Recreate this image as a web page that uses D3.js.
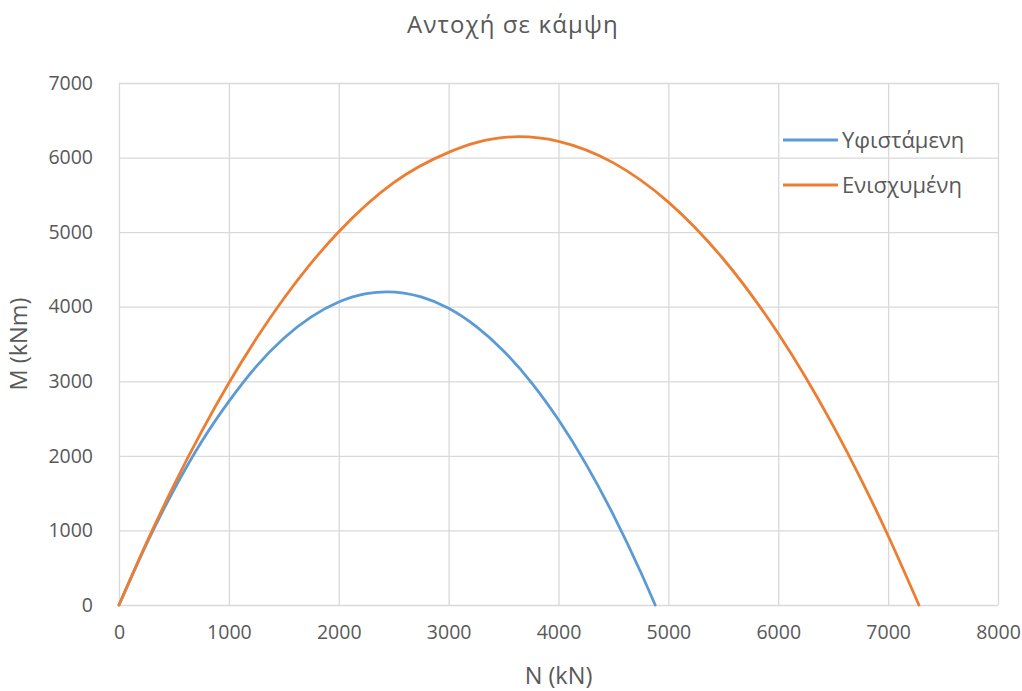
<!DOCTYPE html>
<html>
<head>
<meta charset="utf-8">
<script src="https://cdn.jsdelivr.net/npm/d3@7"></script>
<style>
  html, body { margin: 0; padding: 0; background: #ffffff; }
  svg { display: block; font-family: "Open Sans", "Noto Sans", sans-serif; }
</style>
</head>
<body>
<svg id="chart" width="1022" height="691"></svg>
<script>
// Interaction curves M–N: axial force N (kN), bending moment M (kNm)
const existingN = [0, 250, 500, 750, 1000, 1250, 1500, 1750, 2000, 2250, 2440, 2750, 3000, 3250, 3500, 3750, 4000, 4250, 4500, 4750, 4880];
const existingM = [0, 817, 1545, 2185, 2730, 3200, 3577, 3864, 4063, 4175, 4200, 4132, 3980, 3737, 3407, 2990, 2483, 1889, 1206, 436, 0];

const strengthenedN = [0, 250, 500, 750, 1000, 1250, 1500, 1750, 2000, 2500, 3000, 3250, 3640, 4000, 4500, 5000, 5500, 6000, 6250, 6500, 6750, 7000, 7280];
const strengthenedM = [0, 833, 1607, 2321, 2977, 3573, 4110, 4587, 5005, 5664, 6070, 6200, 6280, 6218, 5929, 5403, 4640, 3640, 3051, 2403, 1696, 929, 0];

const seriesNames = ["Υφιστάμενη", "Ενισχυμένη"];
const seriesColors = ["#5B9BD5", "#ED7D31"];

const xTicks = [0, 1000, 2000, 3000, 4000, 5000, 6000, 7000, 8000];
const yTicks = [0, 1000, 2000, 3000, 4000, 5000, 6000, 7000];

const titleText = "Αντοχή σε κάμψη";
const xTitle = "N (kN)";
const yTitle = "M (kNm)";

const svg = d3.select("#chart");
const plot = { left: 119, right: 998, top: 83, bottom: 605 };
const textColor = "#595959";
const gridColor = "#d9d9d9";

const x = d3.scaleLinear().domain([0, 8000]).range([plot.left, plot.right]);
const y = d3.scaleLinear().domain([0, 7000]).range([plot.bottom, plot.top]);

// axes with full-length ticks acting as gridlines
const yAxis = d3.axisLeft(y).tickValues(yTicks).tickSize(-(plot.right - plot.left)).tickPadding(26).tickFormat(d3.format("d"));
const xAxis = d3.axisBottom(x).tickValues(xTicks).tickSize(-(plot.bottom - plot.top)).tickPadding(20).tickFormat(d3.format("d"));

const gy = svg.append("g").attr("transform", `translate(${plot.left},0)`).call(yAxis);
const gx = svg.append("g").attr("transform", `translate(0,${plot.bottom})`).call(xAxis);

[gx, gy].forEach(g => {
  g.select(".domain").remove();
  g.selectAll(".tick line").attr("stroke", gridColor).attr("stroke-width", 1.3);
  g.selectAll(".tick text").attr("fill", textColor).attr("font-size", 19.5)
    .attr("font-family", "'Open Sans', sans-serif");
});

// curves
const series = [
  existingN.map((n, i) => [n, existingM[i]]),
  strengthenedN.map((n, i) => [n, strengthenedM[i]])
];
const lineFn = d3.line().x(d => x(d[0])).y(d => y(d[1])).curve(d3.curveMonotoneX);
series.forEach((pts, i) => {
  svg.append("path").datum(pts)
    .attr("fill", "none")
    .attr("stroke", seriesColors[i])
    .attr("stroke-width", 2.8)
    .attr("stroke-linejoin", "round")
    .attr("stroke-linecap", "round")
    .attr("d", lineFn);
});

// title
svg.append("text").attr("x", 513).attr("y", 33).attr("text-anchor", "middle")
  .attr("fill", textColor).attr("font-size", 24).attr("letter-spacing", 1.1).text(titleText);

// axis titles
svg.append("text").attr("x", (plot.left + plot.right) / 2).attr("y", 684).attr("text-anchor", "middle")
  .attr("fill", textColor).attr("font-size", 23.5).text(xTitle);
svg.append("text").attr("transform", `translate(27,${(plot.top + plot.bottom) / 2}) rotate(-90)`)
  .attr("text-anchor", "middle").attr("fill", textColor).attr("font-size", 23.5).text(yTitle);

// legend
const legend = svg.append("g");
seriesNames.forEach((name, i) => {
  const ly = 140 + i * 45;
  legend.append("line").attr("x1", 783).attr("x2", 838).attr("y1", ly).attr("y2", ly)
    .attr("stroke", seriesColors[i]).attr("stroke-width", 2.8);
  legend.append("text").attr("x", 842).attr("y", ly).attr("dy", "0.35em")
    .attr("fill", textColor).attr("font-size", 22).text(name);
});
</script>
</body>
</html>
